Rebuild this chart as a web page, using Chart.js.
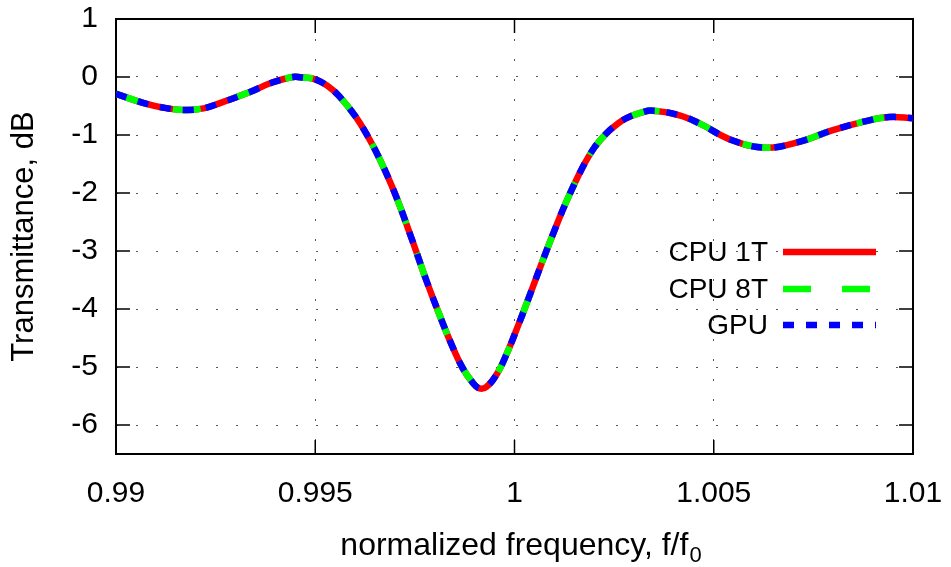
<!DOCTYPE html>
<html>
<head>
<meta charset="utf-8">
<script src="https://cdn.jsdelivr.net/npm/chart.js@4"></script>
<style>
  html, body { margin: 0; padding: 0; background: #fff; }
  canvas { display: block; }
</style>
</head>
<body>
<canvas id="myChart" width="951" height="567"></canvas>
<script>
// normalized frequency f/f0
const freq = [0.9900, 0.9907, 0.9912, 0.99173, 0.9922, 0.99261, 0.99336, 0.9939, 0.99444, 0.9947,
    0.9950, 0.9953, 0.9956, 0.9960, 0.9963, 0.9966, 0.9970, 0.9974, 0.9978, 0.9981,
    0.9984, 0.9987, 0.99895, 0.99912, 0.9993, 0.99955, 0.9998, 1.0001, 1.0004, 1.0007,
    1.0010, 1.0013, 1.0017, 1.0020, 1.00231, 1.0026, 1.00281, 1.0031, 1.00346, 1.00414,
    1.00464, 1.00546, 1.00632, 1.00714, 1.00797, 1.00882, 1.0094, 1.0100];
// transmittance, dB (all three runs give the same curve)
const cpu1t = [-0.29, -0.45, -0.53, -0.57, -0.54, -0.45, -0.26, -0.10, 0.00, -0.01,
    -0.04, -0.15, -0.33, -0.67, -1.00, -1.39, -2.01, -2.75, -3.53, -4.07,
    -4.58, -5.02, -5.27, -5.37, -5.34, -5.13, -4.78, -4.27, -3.73, -3.18,
    -2.65, -2.15, -1.57, -1.22, -0.97, -0.80, -0.71, -0.63, -0.58, -0.66,
    -0.80, -1.09, -1.22, -1.12, -0.92, -0.76, -0.69, -0.71];
const cpu8t = cpu1t.slice();
const gpu = cpu1t.slice();

const seriesNames = ['CPU 1T', 'CPU 8T', 'GPU'];
const xTicks = [0.99, 0.995, 1, 1.005, 1.01];
const xTickLabels = ['0.99', '0.995', '1', '1.005', '1.01'];
const yTicks = [-6, -5, -4, -3, -2, -1, 0, 1];

const FONT = '"Liberation Sans", Arial, sans-serif';

function points(ys) {
    return freq.map((f, i) => ({ x: f, y: ys[i] }));
}

// box around the plot plus inward tick marks, like gnuplot
const framePlugin = {
    id: 'frame',
    beforeDatasetsDraw(chart) {
        const { ctx, chartArea: a, scales } = chart;
        ctx.save();
        ctx.strokeStyle = '#000';
        ctx.lineWidth = 1.5;
        ctx.beginPath();
        xTicks.forEach(v => {
            const px = scales.x.getPixelForValue(v);
            ctx.moveTo(px, a.bottom); ctx.lineTo(px, a.bottom - 14);
            ctx.moveTo(px, a.top); ctx.lineTo(px, a.top + 14);
        });
        yTicks.forEach(v => {
            const py = scales.y.getPixelForValue(v);
            ctx.moveTo(a.left, py); ctx.lineTo(a.left + 14, py);
            ctx.moveTo(a.right, py); ctx.lineTo(a.right - 14, py);
        });
        ctx.stroke();
        ctx.lineWidth = 2;
        ctx.strokeRect(a.left, a.top, a.right - a.left, a.bottom - a.top);
        ctx.restore();
    }
};

// x axis title with subscript and the legend on the right side
const textPlugin = {
    id: 'texts',
    afterDraw(chart) {
        const { ctx, chartArea: a } = chart;
        ctx.save();
        ctx.fillStyle = '#000';
        const main = 'normalized frequency, f/f';
        ctx.font = '32px ' + FONT;
        const w1 = ctx.measureText(main).width;
        ctx.font = '22px ' + FONT;
        const w2 = ctx.measureText('0').width;
        const cx = (a.left + a.right) / 2 + 6;
        const x0 = cx - (w1 + w2) / 2;
        ctx.textBaseline = 'alphabetic';
        ctx.textAlign = 'left';
        ctx.font = '32px ' + FONT;
        ctx.fillText(main, x0, 555);
        ctx.font = '22px ' + FONT;
        ctx.fillText('0', x0 + w1 + 1, 562);

        // legend
        const rows = [252, 289, 325];
        ctx.font = '28px ' + FONT;
        ctx.textAlign = 'right';
        ctx.textBaseline = 'middle';
        chart.data.datasets.forEach((ds, i) => {
            ctx.fillStyle = '#000';
            ctx.fillText(ds.label, 768, rows[i] + 1);
            ctx.strokeStyle = ds.borderColor;
            ctx.lineWidth = ds.borderWidth;
            ctx.lineCap = 'butt';
            ctx.setLineDash(ds.borderDash || []);
            ctx.beginPath();
            ctx.moveTo(783, rows[i]);
            ctx.lineTo(876, rows[i]);
            ctx.stroke();
        });
        ctx.restore();
    }
};

const ctx = document.getElementById('myChart').getContext('2d');

new Chart(ctx, {
    type: 'line',
    data: {
        datasets: [{
            label: seriesNames[0],
            data: points(cpu1t),
            borderColor: '#ff0000',
            borderWidth: 6.5,
            borderCapStyle: 'butt',
            order: 3
        }, {
            label: seriesNames[1],
            data: points(cpu8t),
            borderColor: '#00ff00',
            borderWidth: 6.5,
            borderDash: [28, 31],
            borderCapStyle: 'butt',
            order: 2
        }, {
            label: seriesNames[2],
            data: points(gpu),
            borderColor: '#0000ff',
            borderWidth: 6.5,
            borderDash: [11, 12],
            borderCapStyle: 'butt',
            order: 1
        }]
    },
    options: {
        responsive: false,
        animation: false,
        devicePixelRatio: 1,
        layout: { padding: { left: 0, top: 19, right: 38, bottom: 0 } },
        elements: {
            point: { radius: 0 },
            line: { tension: 0.4, fill: false, borderJoinStyle: 'round' }
        },
        plugins: {
            legend: { display: false },
            tooltip: { enabled: false }
        },
        scales: {
            x: {
                type: 'linear',
                min: 0.99,
                max: 1.01,
                afterBuildTicks: (scale) => { scale.ticks = xTicks.map(v => ({ value: v })); },
                afterFit: (scale) => {
                    scale.height = 113;
                    scale.paddingLeft = 0;
                    scale.paddingRight = 0;
                },
                ticks: {
                    autoSkip: false,
                    maxRotation: 0,
                    padding: 22,
                    color: '#000',
                    font: { family: FONT, size: 30 },
                    callback: (v, i) => xTickLabels[i]
                },
                grid: { color: '#555', lineWidth: 1, drawTicks: false },
                border: { display: false, dash: [2, 18] }
            },
            y: {
                min: -6.5,
                max: 1,
                afterBuildTicks: (scale) => { scale.ticks = yTicks.map(v => ({ value: v })); },
                afterFit: (scale) => {
                    scale.width = 116;
                    scale.paddingTop = 0;
                    scale.paddingBottom = 0;
                },
                ticks: {
                    padding: 18,
                    color: '#000',
                    font: { family: FONT, size: 30 },
                    callback: (v) => String(v)
                },
                grid: { color: '#555', lineWidth: 1, drawTicks: false },
                border: { display: false, dash: [2, 18] },
                title: {
                    display: true,
                    text: 'Transmittance, dB',
                    color: '#000',
                    font: { family: FONT, size: 31 },
                    padding: { top: 6, bottom: 0 }
                }
            }
        }
    },
    plugins: [framePlugin, textPlugin]
});
</script>
</body>
</html>
